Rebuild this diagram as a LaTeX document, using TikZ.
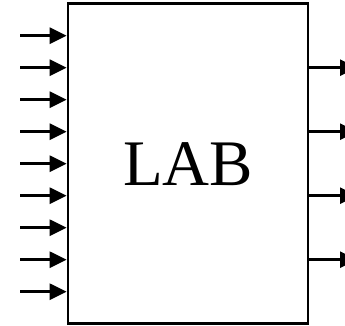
\documentclass[tikz,border=0pt]{standalone}
\usepackage{fontspec}
\setmainfont{Liberation Serif}
\usetikzlibrary{arrows.meta,positioning}
\tikzset{>={Triangle[length=17pt,width=16pt]}}
\tikzset{wire/.style={line width=2.8pt,->}}
\tikzset{block/.style={draw,line width=2.8pt,minimum width=240pt,minimum height=320pt,inner sep=0pt,font=\fontsize{65}{70}\selectfont}}

\begin{document}
\begin{tikzpicture}[x=1pt,y=-1pt]
  \useasboundingbox (0,0) rectangle (345,326);
  \node[block] (lab) at (188,163.7) {LAB};
  % nine inputs on the left
  \foreach \i in {0,...,8} {
    \coordinate (in\i) at (20,{35.7+32*\i});
    \draw[wire] (in\i) -- (in\i -| lab.west);
  }
  % four outputs on the right
  \foreach \i in {0,...,3} {
    \coordinate (out\i) at (357,{67.7+64*\i});
    \draw[wire] (out\i -| lab.east) -- (out\i);
  }
\end{tikzpicture}
\end{document}
